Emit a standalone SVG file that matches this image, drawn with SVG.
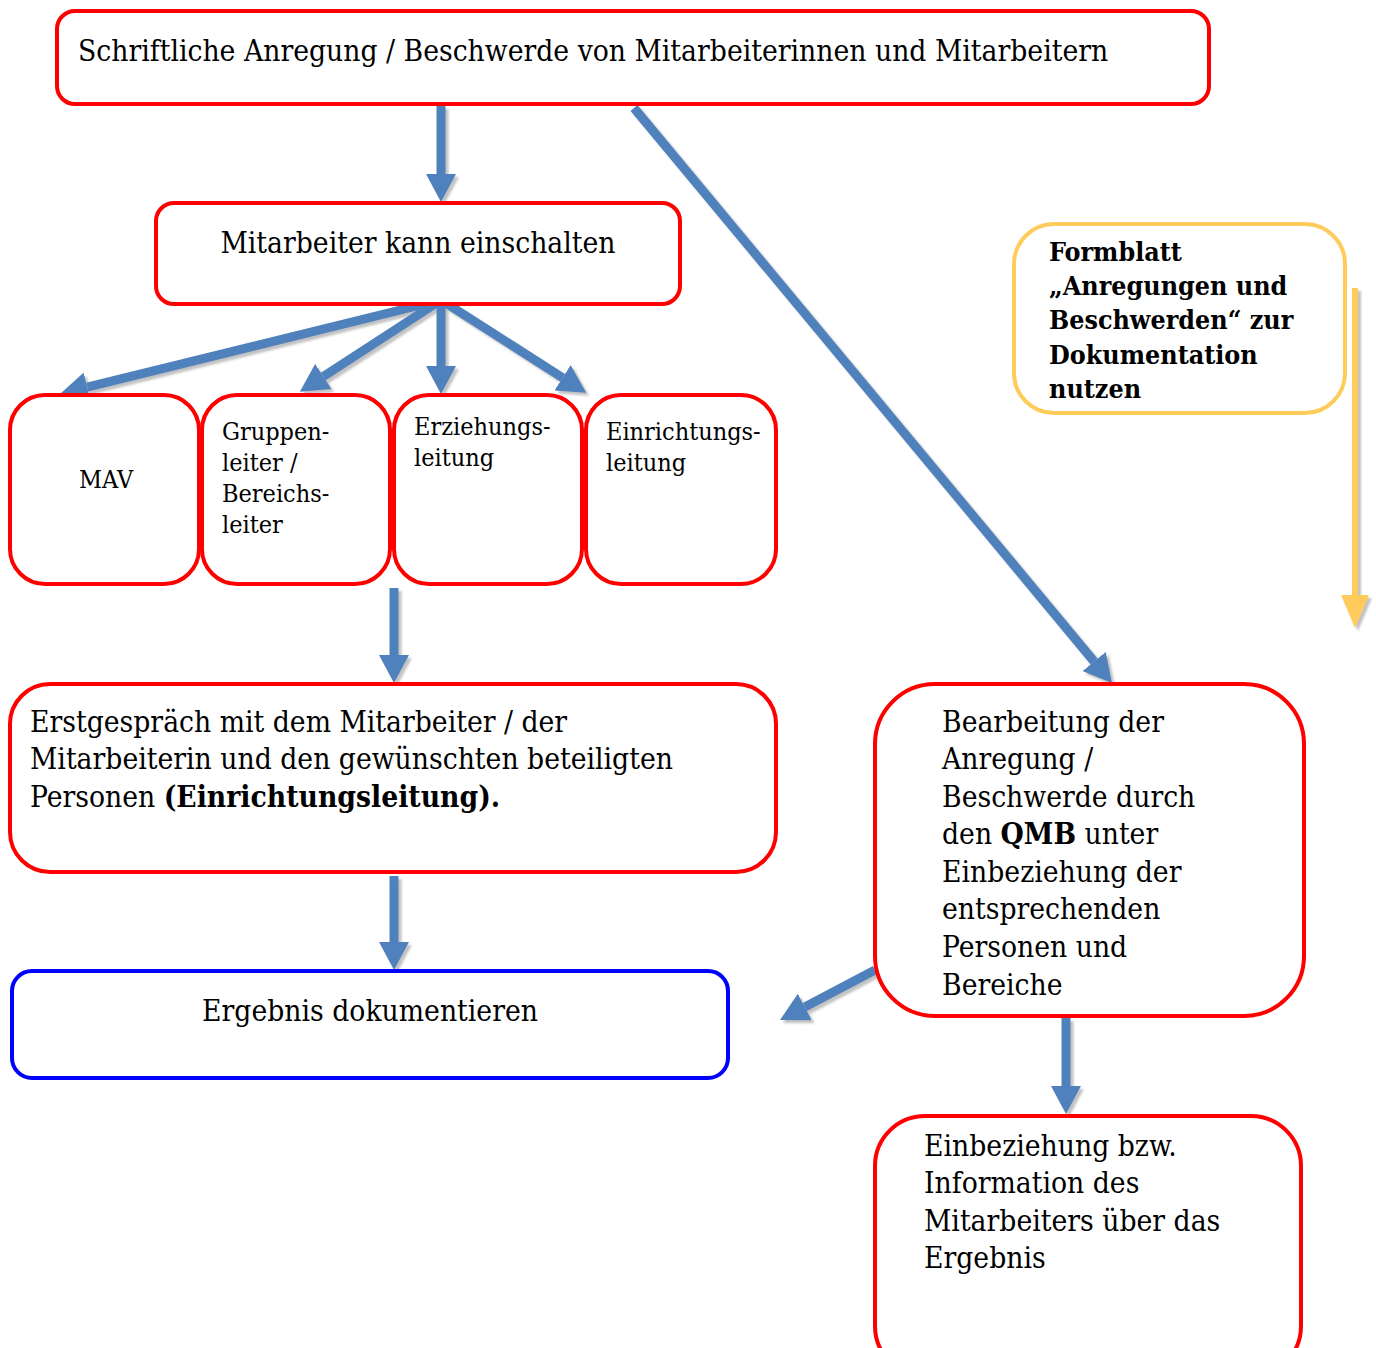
<svg xmlns="http://www.w3.org/2000/svg" width="1376" height="1348" viewBox="0 0 1376 1348">
  <style>
    .box { fill: #ffffff; stroke: #ff0000; stroke-width: 4; }
    .box-blue { fill: #ffffff; stroke: #0000ff; stroke-width: 4; }
    .box-gold { fill: #ffffff; stroke: #ffcc5c; stroke-width: 4; }
    .t { font-family: "DejaVu Serif Condensed", "DejaVu Serif", "Liberation Serif", serif; font-stretch: condensed; fill: #000000; }
    .t30 { font-size: 29.7px; }
    .t26 { font-size: 25px; }
    .tb { font-size: 26.6px; font-weight: bold; }
    .b { font-weight: bold; }
    .arrow { stroke: #4f81bd; stroke-width: 9; fill: none; marker-end: url(#head); }
    .arrow-gold { stroke: #ffcc5c; stroke-width: 6; fill: none; marker-end: url(#headGold); }
  </style>
  <defs>
    <marker id="head" markerUnits="userSpaceOnUse" viewBox="0 0 28 30" refX="0" refY="15" markerWidth="28" markerHeight="30" orient="auto">
      <path d="M0,0 L28,15 L0,30 Z" fill="#4f81bd"/>
    </marker>
    <marker id="headGold" markerUnits="userSpaceOnUse" viewBox="0 0 33 28" refX="0" refY="14" markerWidth="33" markerHeight="28" orient="auto">
      <path d="M0,0 L33,14 L0,28 Z" fill="#ffcc5c"/>
    </marker>
    <filter id="shadow" x="-10%" y="-10%" width="130%" height="130%">
      <feDropShadow dx="3" dy="3" stdDeviation="0.8" flood-color="#9a9a9a" flood-opacity="0.6"/>
    </filter>
  </defs>

  <!-- connectors -->
  <g id="connectors" filter="url(#shadow)">
    <line class="arrow" x1="441" y1="106" x2="441" y2="174"/>
    <line class="arrow" x1="441" y1="300" x2="87.2" y2="387.2"/>
    <line class="arrow" x1="441" y1="300" x2="323.3" y2="376.5"/>
    <line class="arrow" x1="441" y1="298" x2="441" y2="366"/>
    <line class="arrow" x1="441" y1="300" x2="562.6" y2="377.7"/>
    <line class="arrow" x1="394" y1="588" x2="394" y2="655"/>
    <line class="arrow" x1="394" y1="876" x2="394" y2="942"/>
    <line class="arrow" x1="634" y1="108" x2="1094.1" y2="661.5"/>
    <line class="arrow" x1="875" y1="970" x2="804.8" y2="1007"/>
    <line class="arrow" x1="1066" y1="1018" x2="1066" y2="1086"/>
    <line class="arrow-gold" x1="1355" y1="288" x2="1355" y2="595"/>
  </g>

  <g id="node-start">
    <rect class="box" x="57" y="11" width="1152" height="93" rx="18"/>
    <text class="t t30" x="78" y="61">Schriftliche Anregung / Beschwerde von Mitarbeiterinnen und Mitarbeitern</text>
  </g>

  <g id="node-einschalten">
    <rect class="box" x="156" y="203" width="524" height="101" rx="18"/>
    <text class="t t30" x="418" y="253" text-anchor="middle">Mitarbeiter kann einschalten</text>
  </g>

  <g id="node-mav">
    <rect class="box" x="10" y="395" width="189" height="189" rx="35"/>
    <text class="t t26" x="79" y="488">MAV</text>
  </g>

  <g id="node-gruppenleiter">
    <rect class="box" x="202" y="395" width="188" height="189" rx="35"/>
    <text class="t t26" x="222" y="440">Gruppen-</text>
    <text class="t t26" x="222" y="471">leiter /</text>
    <text class="t t26" x="222" y="502">Bereichs-</text>
    <text class="t t26" x="222" y="533">leiter</text>
  </g>

  <g id="node-erziehungsleitung">
    <rect class="box" x="394" y="395" width="188" height="189" rx="35"/>
    <text class="t t26" x="414" y="435">Erziehungs-</text>
    <text class="t t26" x="414" y="466">leitung</text>
  </g>

  <g id="node-einrichtungsleitung">
    <rect class="box" x="586" y="395" width="190" height="189" rx="35"/>
    <text class="t t26" x="606" y="440">Einrichtungs-</text>
    <text class="t t26" x="606" y="471">leitung</text>
  </g>

  <g id="node-erstgespraech">
    <rect class="box" x="10" y="684" width="766" height="188" rx="40"/>
    <text class="t t30" x="30" y="732">Erstgespräch mit dem Mitarbeiter / der</text>
    <text class="t t30" x="30" y="769">Mitarbeiterin und den gewünschten beteiligten</text>
    <text class="t t30" x="30" y="807">Personen <tspan class="b">(Einrichtungsleitung).</tspan></text>
  </g>

  <g id="node-ergebnis">
    <rect class="box-blue" x="12" y="971" width="716" height="107" rx="20"/>
    <text class="t t30" x="370" y="1021" text-anchor="middle">Ergebnis dokumentieren</text>
  </g>

  <g id="node-bearbeitung">
    <rect class="box" x="875" y="684" width="429" height="332" rx="60"/>
    <text class="t t30" x="942" y="732">Bearbeitung der</text>
    <text class="t t30" x="942" y="769">Anregung /</text>
    <text class="t t30" x="942" y="807">Beschwerde durch</text>
    <text class="t t30" x="942" y="844">den <tspan class="b">QMB</tspan> unter</text>
    <text class="t t30" x="942" y="882">Einbeziehung der</text>
    <text class="t t30" x="942" y="919">entsprechenden</text>
    <text class="t t30" x="942" y="957">Personen und</text>
    <text class="t t30" x="942" y="995">Bereiche</text>
  </g>

  <g id="node-information">
    <rect class="box" x="875" y="1116" width="426" height="260" rx="50"/>
    <text class="t t30" x="924" y="1156">Einbeziehung bzw.</text>
    <text class="t t30" x="924" y="1193">Information des</text>
    <text class="t t30" x="924" y="1231">Mitarbeiters über das</text>
    <text class="t t30" x="924" y="1268">Ergebnis</text>
  </g>

  <g id="node-formblatt">
    <rect class="box-gold" x="1014" y="224" width="331" height="189" rx="40"/>
    <text class="t tb" x="1049" y="261">Formblatt</text>
    <text class="t tb" x="1049" y="295">„Anregungen und</text>
    <text class="t tb" x="1049" y="329">Beschwerden“ zur</text>
    <text class="t tb" x="1049" y="364">Dokumentation</text>
    <text class="t tb" x="1049" y="398">nutzen</text>
  </g>
</svg>
